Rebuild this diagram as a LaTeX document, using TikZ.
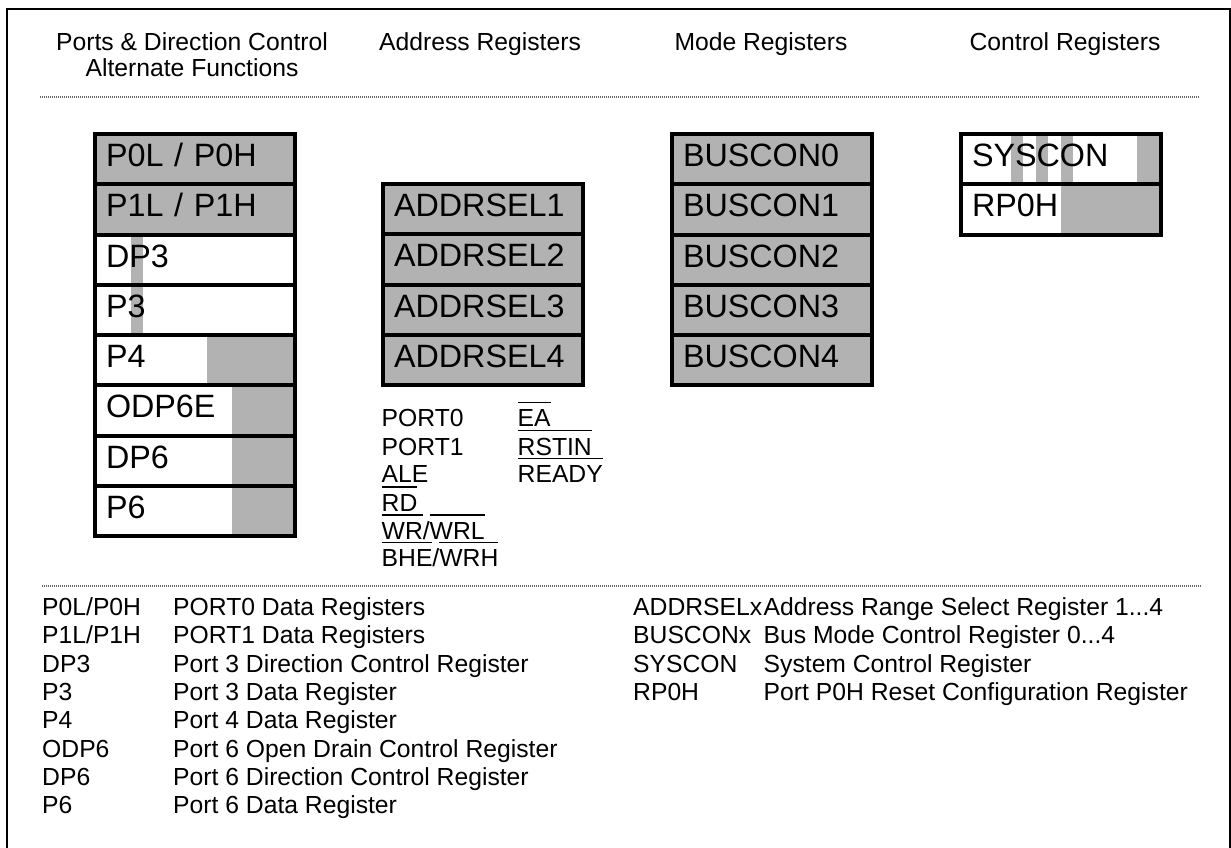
\documentclass[tikz,border=0pt]{standalone}
\usepackage{fontspec}
\setmainfont{Liberation Sans}
\usetikzlibrary{calc,backgrounds}

\definecolor{regfill}{gray}{0.70}
\newcommand\regfont{\fontsize{32.3}{36}\selectfont}
\newcommand\lblfont{\fontsize{24.7}{26.7}\selectfont}
% overlined (active low) pin name
\newcommand\ovl[1]{\vbox{\hrule height 1.5pt\kern 6.5pt\hbox{#1}}}

\begin{document}
\begin{tikzpicture}[x=1pt, y=-1pt,
    reg/.style={draw, line width=4pt, outer sep=0pt, inner xsep=11pt, inner ysep=0pt,
      text width=178pt, align=left, minimum height=50.25pt,
      text height=22pt, text depth=7pt, font=\regfont},
    regfull/.style={reg, fill=regfill},
    lbl/.style={inner sep=0pt, anchor=base west, font=\lblfont},
    sep/.style={draw=black!60, line width=2pt, dash pattern=on 1pt off 1pt}]
  \useasboundingbox (0,0) rectangle (1231,847);
  % frame, open at the bottom
  \draw[line width=2.2pt] (7,850) -- (7,9) -- (1230,9) -- (1230,850);
  % column heads
  \node[lbl, anchor=north, align=center] (hdports) at (192,32) {Ports \& Direction Control\\Alternate Functions};
  \node[lbl, anchor=base] (hdaddr) at (480,50) {Address Registers};
  \node[lbl, anchor=base] (hdmode) at (761,50) {Mode Registers};
  \node[lbl, anchor=base] (hdctrl) at (1065,50) {Control Registers};
  \draw[sep] (39.5,96.7) -- (1198,96.7);
  % ports & direction control
  \foreach \i/\n/\t in {0/p0/{P0L / P0H}, 1/p1/{P1L / P1H}}
    \node[regfull, anchor=north west] (\n) at (95,{134+\i*50.25}) {\t};
  \foreach \i/\n/\t in {2/dp3/DP3, 3/p3/P3, 4/p4/P4, 5/odp6e/ODP6E, 6/dp6/DP6, 7/p6/P6}
    \node[reg, anchor=north west] (\n) at (95,{134+\i*50.25}) {\t};
  % address and mode registers
  \foreach \i in {1,...,4}
    \node[regfull, anchor=north west] (addrsel\i) at (383,{184+(\i-1)*50.25}) {ADDRSEL\i};
  \foreach \i in {0,...,4}
    \node[regfull, anchor=north west] (buscon\i) at (672,{134+\i*50.25}) {BUSCON\i};
  % control registers
  \node[reg, anchor=north west] (syscon) at (961,134) {SYSCON};
  \node[reg, anchor=north west] (rp0h) at (961,184.25) {RP0H};
  % grey (reserved) bit fields
  \begin{scope}[on background layer]
    \foreach \n in {dp3,p3}
      \fill[regfill] ([xshift=36pt]\n.north west) rectangle ([xshift=48.3pt]\n.south west);
    \fill[regfill] ([xshift=111.7pt]p4.north west) rectangle (p4.south east);
    \foreach \n in {odp6e,dp6,p6}
      \fill[regfill] ([xshift=137.3pt]\n.north west) rectangle (\n.south east);
    \foreach \a/\b in {50/62.3, 75/87.3, 100/112.3, 176.3/200}
      \fill[regfill] ([xshift=\a pt]syscon.north west) rectangle ([xshift=\b pt]syscon.south west);
    \fill[regfill] ([xshift=100pt]rp0h.north west) rectangle (rp0h.south east);
  \end{scope}
  % alternate function pins
  \foreach \n/\y/\t in {port0/426.7/PORT0, port1/455/PORT1, ale/482.7/ALE, rd/511/{\ovl{RD}},
      wrl/539.3/{\ovl{WR}/\ovl{WRL}}, wrh/566.7/{\ovl{BHE}/\ovl{WRH}}}
    \node[lbl] (\n) at (381.5,\y) {\t};
  \foreach \n/\y/\t in {ea/426.7/{\ovl{EA}}, rstin/455/{\ovl{RSTIN}}, ready/482.7/{\ovl{READY}}}
    \node[lbl] (\n) at (517.5,\y) {\t};
  % legend
  \draw[sep] (41.5,585.7) -- (1200,585.7);
  \foreach \i/\k/\d in {1/{P0L/P0H}/{PORT0 Data Registers}, 2/{P1L/P1H}/{PORT1 Data Registers},
      3/DP3/{Port 3 Direction Control Register}, 4/P3/{Port 3 Data Register},
      5/P4/{Port 4 Data Register}, 6/ODP6/{Port 6 Open Drain Control Register},
      7/DP6/{Port 6 Direction Control Register}, 8/P6/{Port 6 Data Register}} {
    \node[lbl] (key\i) at (42,{615.5+(\i-1)*28.3}) {\k};
    \node[lbl] (desc\i) at (173,{615.5+(\i-1)*28.3}) {\d};
  }
  \node[lbl] (keyr1) at (633,615.5) {ADDRSELx};
  \node[lbl] (descr1) at (763.5,615.5) {Address Range Select Register 1...4};
  \node[lbl] (keyr2) at (633,643.8) {BUSCONx};
  \node[lbl] (descr2) at (763.5,643.8) {Bus Mode Control Register 0...4};
  \node[lbl] (keyr3) at (633,672.1) {SYSCON};
  \node[lbl] (descr3) at (763.5,672.1) {System Control Register};
  \node[lbl] (keyr4) at (633,700.4) {RP0H};
  \node[lbl] (descr4) at (763.5,700.4) {Port P0H Reset Configuration Register};
\end{tikzpicture}
\end{document}
